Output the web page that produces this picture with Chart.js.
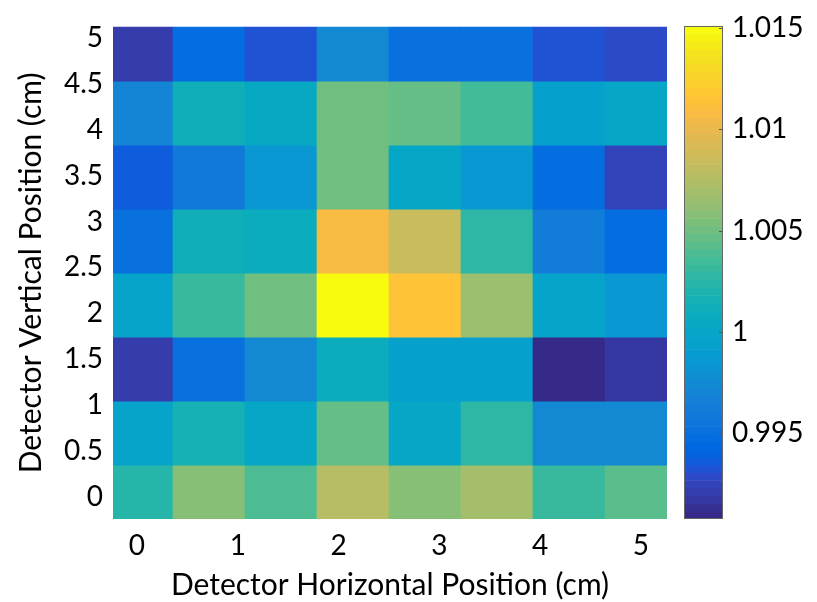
<!DOCTYPE html>
<html>
<head>
<meta charset="utf-8">
<script src="https://cdn.jsdelivr.net/npm/chart.js@4.4.1/dist/chart.umd.min.js"></script>
<style>
  html, body { margin: 0; padding: 0; background: #ffffff; }
  #wrap { position: relative; width: 817px; height: 602px; overflow: hidden; }
  #main { position: absolute; left: 0; top: 0; }
  #cbar { position: absolute; left: 680px; top: 0; }
</style>
</head>
<body>
<div id="wrap">
  <canvas id="main" width="817" height="602"></canvas>
  <canvas id="cbar" width="137" height="602"></canvas>
</div>
<script>
// ---------------- data ----------------
// rows listed from the top of the map (vertical ≈ 5 cm) down to the bottom (0 cm),
// each row from horizontal 0 cm to 5 cm (8 detector cells)
const rowTop1 = [0.9921, 0.9948, 0.9933, 0.9974, 0.9952, 0.9950, 0.9933, 0.9929];
const rowTop2 = [0.9971, 1.0012, 1.0005, 1.0050, 1.0047, 1.0035, 0.9993, 1.0001];
const rowTop3 = [0.9936, 0.9959, 0.9986, 1.0050, 1.0001, 0.9986, 0.9948, 0.9925];
const rowTop4 = [0.9952, 1.0012, 1.0009, 1.0107, 1.0085, 1.0028, 0.9963, 0.9948];
const rowTop5 = [0.9997, 1.0031, 1.0050, 1.0149, 1.0115, 1.0066, 0.9997, 0.9984];
const rowTop6 = [0.9921, 0.9952, 0.9974, 1.0009, 0.9993, 0.9994, 0.9910, 0.9917];
const rowTop7 = [0.9997, 1.0016, 1.0001, 1.0047, 1.0001, 1.0028, 0.9974, 0.9974];
const rowTop8 = [1.0024, 1.0058, 1.0039, 1.0077, 1.0058, 1.0069, 1.0031, 1.0043];
const rowsTopDown = [rowTop1, rowTop2, rowTop3, rowTop4, rowTop5, rowTop6, rowTop7, rowTop8];

const xTickValues = [0, 1, 2, 3, 4, 5];
const yTickValues = [0, 0.5, 1, 1.5, 2, 2.5, 3, 3.5, 4, 4.5, 5];
const cbTickValues = [0.995, 1, 1.005, 1.01, 1.015];
const cbTickLabels = ['0.995', '1', '1.005', '1.01', '1.015'];
const colorLimits = [0.99078, 1.0151];

const xTitle = 'Detector Horizontal Position (cm)';
const yTitle = 'Detector Vertical Position (cm)';

// ---------------- styling / geometry ----------------
const FONT = 'Lato, "Open Sans", "DejaVu Sans", sans-serif';
const TICK_FS = 28;
const XTITLE_FS = 30;
const YTITLE_FS = 30;
const X_RANGE = [-0.238, 5.258];
const Y_RANGE = [-0.238, 5.119];
const X_PITCH = 5 / 7;       // horizontal cell pitch (cm)
const Y_PITCH = 0.6966;      // vertical cell pitch (cm)

// MATLAB parula (64 colours)
const parula = [
[0.2081,0.1663,0.5292],[0.2116,0.1898,0.5777],[0.2123,0.2138,0.6270],[0.2081,0.2386,0.6771],
[0.1959,0.2645,0.7279],[0.1707,0.2919,0.7792],[0.1253,0.3242,0.8303],[0.0591,0.3598,0.8683],
[0.0117,0.3875,0.8820],[0.0060,0.4086,0.8828],[0.0165,0.4266,0.8786],[0.0329,0.4430,0.8720],
[0.0498,0.4586,0.8641],[0.0629,0.4737,0.8554],[0.0723,0.4887,0.8467],[0.0779,0.5040,0.8384],
[0.0793,0.5200,0.8312],[0.0749,0.5375,0.8263],[0.0641,0.5570,0.8240],[0.0488,0.5772,0.8228],
[0.0343,0.5966,0.8199],[0.0265,0.6137,0.8135],[0.0239,0.6287,0.8038],[0.0231,0.6418,0.7913],
[0.0228,0.6535,0.7768],[0.0267,0.6642,0.7607],[0.0384,0.6743,0.7436],[0.0590,0.6838,0.7254],
[0.0843,0.6928,0.7062],[0.1133,0.7015,0.6859],[0.1453,0.7098,0.6646],[0.1801,0.7177,0.6424],
[0.2178,0.7250,0.6193],[0.2586,0.7317,0.5954],[0.3022,0.7376,0.5712],[0.3482,0.7424,0.5473],
[0.3953,0.7459,0.5244],[0.4420,0.7481,0.5033],[0.4871,0.7491,0.4840],[0.5300,0.7491,0.4661],
[0.5709,0.7485,0.4494],[0.6099,0.7473,0.4337],[0.6473,0.7456,0.4188],[0.6834,0.7435,0.4044],
[0.7184,0.7411,0.3905],[0.7525,0.7384,0.3768],[0.7858,0.7356,0.3633],[0.8185,0.7327,0.3498],
[0.8507,0.7299,0.3360],[0.8824,0.7274,0.3217],[0.9139,0.7258,0.3063],[0.9450,0.7261,0.2886],
[0.9739,0.7314,0.2666],[0.9938,0.7455,0.2403],[0.9990,0.7653,0.2164],[0.9955,0.7861,0.1967],
[0.9880,0.8066,0.1794],[0.9789,0.8271,0.1633],[0.9697,0.8481,0.1475],[0.9626,0.8705,0.1309],
[0.9589,0.8949,0.1132],[0.9598,0.9218,0.0948],[0.9661,0.9514,0.0755],[0.9763,0.9831,0.0538]
];
function rgbOf(c) { return 'rgb(' + c.map(v => Math.round(v * 255)).join(',') + ')'; }
function colorFor(v) {
  const t = (v - colorLimits[0]) / (colorLimits[1] - colorLimits[0]);
  const i = Math.max(0, Math.min(parula.length - 1, Math.floor(t * parula.length)));
  return rgbOf(parula[i]);
}

Chart.defaults.color = '#000';
Chart.defaults.font.family = FONT;

// ---------------- heat map (floating bars on linear axes) ----------------
const nRows = rowsTopDown.length;
const datasets = rowsTopDown.map((row, r) => {
  const yc = (nRows - 1 - r) * Y_PITCH;
  return {
    data: row.map((v, c) => ({ x: c * X_PITCH, y: [yc - Y_PITCH / 2, yc + Y_PITCH / 2], v })),
    backgroundColor: row.map(colorFor),
    borderWidth: 0,
    grouped: false,
    barPercentage: 1,
    categoryPercentage: 1
  };
});

new Chart(document.getElementById('main'), {
  type: 'bar',
  data: { datasets },
  options: {
    responsive: false, animation: false, events: [],
    layout: { padding: { left: 0, top: 23, right: 150, bottom: 0 } },
    plugins: { legend: { display: false }, tooltip: { enabled: false } },
    scales: {
      x: {
        type: 'linear', position: 'bottom', min: X_RANGE[0], max: X_RANGE[1], offset: false,
        grid: { display: false, drawTicks: false, offset: false }, border: { display: false },
        afterBuildTicks: s => { s.ticks = xTickValues.map(v => ({ value: v })); },
        afterFit: s => { s.height = 83; },
        ticks: { font: { size: TICK_FS }, color: '#000', padding: 10, maxRotation: 0, autoSkip: false,
                 callback: v => String(v) },
        title: { display: true, text: xTitle, color: '#000', font: { size: XTITLE_FS, lineHeight: 1 },
                 padding: { top: 0, bottom: 1.5 } }
      },
      y: {
        type: 'linear', position: 'left', min: Y_RANGE[0], max: Y_RANGE[1],
        grid: { display: false, drawTicks: false }, border: { display: false },
        afterBuildTicks: s => { s.ticks = yTickValues.map(v => ({ value: v })); },
        afterFit: s => { s.width = 113; },
        ticks: { font: { size: TICK_FS }, color: '#000', padding: 10, autoSkip: false,
                 callback: v => String(v) },
        title: { display: true, text: yTitle, color: '#000', font: { size: YTITLE_FS, lineHeight: 1 },
                 padding: { top: 16, bottom: 0 } }
      }
    }
  }
});

// ---------------- colour bar ----------------
const nLevels = parula.length;
const cbStep = (colorLimits[1] - colorLimits[0]) / nLevels;
const cbSlices = parula.map((c, k) => ({ x: 'cb', y: [colorLimits[0] + k * cbStep, colorLimits[0] + (k + 1) * cbStep] }));

const cbDecor = {
  id: 'cbDecor',
  afterDatasetsDraw(chart) {
    const { ctx, chartArea: a } = chart;
    const y = chart.scales.y;
    ctx.save();
    ctx.strokeStyle = '#555';
    ctx.lineWidth = 1;
    y.ticks.forEach(t => {
      const py = Math.round(y.getPixelForValue(t.value)) + 0.5;
      ctx.beginPath(); ctx.moveTo(a.right - 4, py); ctx.lineTo(a.right, py); ctx.stroke();
    });
    ctx.strokeStyle = '#666';
    ctx.strokeRect(Math.round(a.left) + 0.5, Math.round(a.top) + 0.5,
                   Math.round(a.right - a.left) - 1, Math.round(a.bottom - a.top) - 1);
    ctx.restore();
  }
};

new Chart(document.getElementById('cbar'), {
  type: 'bar',
  data: {
    labels: ['cb'],
    datasets: [{
      data: cbSlices,
      backgroundColor: parula.map(rgbOf),
      borderWidth: 0, grouped: false, barPercentage: 1, categoryPercentage: 1
    }]
  },
  options: {
    responsive: false, animation: false, events: [],
    layout: { padding: { left: 4, top: 23, right: 0, bottom: 83 } },
    plugins: { legend: { display: false }, tooltip: { enabled: false } },
    scales: {
      x: { type: 'category', display: false, offset: true },
      y: {
        type: 'linear', position: 'right', min: colorLimits[0], max: colorLimits[1],
        grid: { display: false, drawTicks: false }, border: { display: false },
        afterBuildTicks: s => { s.ticks = cbTickValues.map(v => ({ value: v })); },
        afterFit: s => { s.width = 94; },
        ticks: { font: { size: TICK_FS }, color: '#000', padding: 9, autoSkip: false,
                 callback: (v, i) => cbTickLabels[i] }
      }
    }
  },
  plugins: [cbDecor]
});
</script>
</body>
</html>
